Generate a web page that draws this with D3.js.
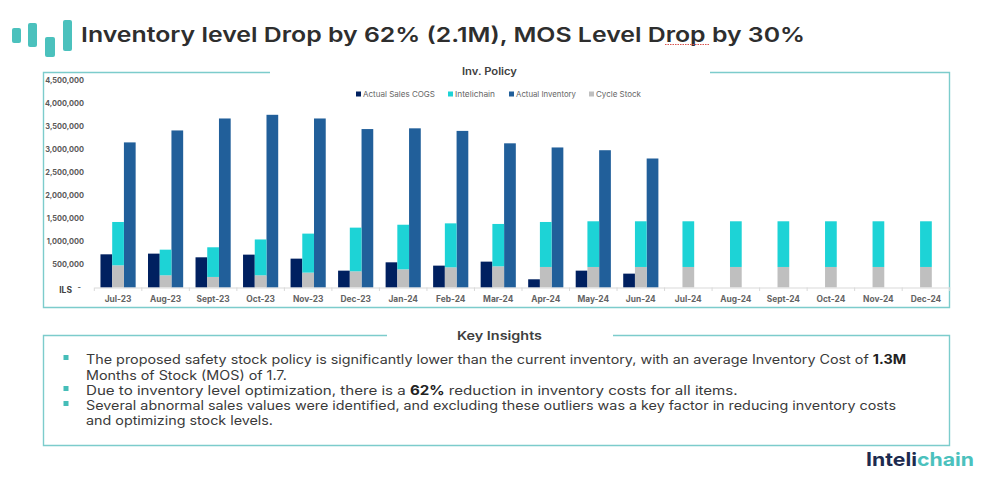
<!DOCTYPE html>
<html>
<head>
<meta charset="utf-8">
<script src="https://cdn.jsdelivr.net/npm/d3@7"></script>
<style>
  html, body { margin: 0; padding: 0; background: #fff; }
  svg { display: block; font-family: Inter, "Open Sans", sans-serif; }
</style>
</head>
<body>
<svg id="chart" width="993" height="477"></svg>
<script>
// values
var months = ["Jul-23", "Aug-23", "Sept-23", "Oct-23", "Nov-23", "Dec-23", "Jan-24", "Feb-24", "Mar-24", "Apr-24", "May-24", "Jun-24",
  "Jul-24", "Aug-24", "Sept-24", "Oct-24", "Nov-24", "Dec-24"];
var actualSales = [717000, 732000, 652000, 710000, 623000, 362000, 543000, 471000, 558000, 174000, 362000, 297000,
  null, null, null, null, null, null];
var actualInventory = [3150000, 3410000, 3670000, 3750000, 3670000, 3440000, 3456000, 3400000, 3130000, 3040000, 2980000, 2800000,
  null, null, null, null, null, null];
var cycleStock = [478000, 261000, 225000, 261000, 319000, 348000, 391000, 435000, 456000, 442000, 442000, 442000,
  442000, 442000, 442000, 442000, 442000, 442000];
// stacked above cycle stock
var intelichain = [942000, 557000, 645000, 779000, 848000, 949000, 969000, 955000, 921000, 978000, 993000, 993000,
  993000, 993000, 993000, 993000, 993000, 993000];
var yTicks = [0, 500000, 1000000, 1500000, 2000000, 2500000, 3000000, 3500000, 4000000, 4500000];
var legendLabels = ["Actual Sales COGS", "Intelichain", "Actual Inventory", "Cycle Stock"];

var colors = {sales: "#002060", intelichain: "#1dd3d6", inventory: "#215f9a", cycle: "#bfbfbf"};
var legendColors = [colors.sales, colors.intelichain, colors.inventory, colors.cycle];
var frameColor = "#7ccccc";
var inkColor = "#2e2e2e";

var svg = d3.select("#chart");

// header logo mark
var logoColor = "#4bc1bd";
[[12, 28, 9, 15], [28, 23, 9, 24], [45, 37, 10, 20], [63, 20, 9, 31]].forEach(function(b) {
  svg.append("rect").attr("x", b[0]).attr("y", b[1]).attr("width", b[2]).attr("height", b[3])
    .attr("rx", 2).attr("fill", logoColor);
});

svg.append("text")
  .attr("x", 81).attr("y", 42)
  .attr("font-size", 20.5).attr("font-weight", 600).attr("fill", inkColor)
  .attr("textLength", 724).attr("lengthAdjust", "spacingAndGlyphs")
  .text("Inventory level Drop by 62% (2.1M), MOS Level Drop by 30%");

// spell check squiggle under "rop"
svg.append("line")
  .attr("x1", 665).attr("x2", 709).attr("y1", 44.5).attr("y2", 44.5)
  .attr("stroke", "#d9534f").attr("stroke-width", 1).attr("stroke-dasharray", "1.5 1");

// panel with a gap in the top edge for its title
function panel(x0, x1, y0, y1, gap0, gap1) {
  svg.append("path")
    .attr("d", "M" + gap0 + "," + y0 + "H" + x0 + "V" + y1 + "H" + x1 + "V" + y0 + "H" + gap1)
    .attr("fill", "none")
    .attr("stroke", frameColor)
    .attr("stroke-width", 1.4);
}
panel(43.5, 949.5, 72.5, 307.5, 270, 710);
panel(43.5, 949.5, 335.5, 445.5, 387, 613);

svg.append("text")
  .attr("x", 462).attr("y", 75)
  .attr("font-size", 10).attr("font-weight", 600).attr("fill", "#404040")
  .attr("textLength", 55).attr("lengthAdjust", "spacingAndGlyphs")
  .text("Inv. Policy");

// scales
var x = d3.scaleBand().domain(months).range([94.3, 949.7]).paddingInner(0.26).paddingOuter(0.13);
var slot = d3.scaleBand().domain([0, 1, 2]).range([0, x.bandwidth()]);
var y = d3.scaleLinear().domain([0, 4500000]).range([287.3, 80.3]);

// axes
var yAxis = d3.axisLeft(y).tickValues(yTicks).tickSize(0).tickPadding(0)
  .tickFormat(function(d) { return d === 0 ? "-" : d3.format(",")(d); });
var yG = svg.append("g").attr("transform", "translate(84,0)").call(yAxis);
yG.select(".domain").remove();
yG.selectAll("text")
  .attr("font-size", 7.4).attr("font-weight", 700).attr("fill", "#595959")
  .attr("font-family", "Inter, sans-serif");
yG.selectAll(".tick").filter(function(d) { return d === 0; }).select("text").attr("x", -3);

svg.append("text")
  .attr("x", 72).attr("y", 293).attr("text-anchor", "end")
  .attr("font-size", 8.5).attr("font-weight", 700).attr("fill", "#404040")
  .text("ILS");

var xAxis = d3.axisBottom(x).tickSize(0).tickPadding(8.5);
var xG = svg.append("g").attr("transform", "translate(0,287.5)").call(xAxis);
xG.select(".domain").attr("stroke", "#d9d9d9");
xG.selectAll("text")
  .attr("font-size", 8.4).attr("font-weight", 700).attr("fill", "#636363")
  .attr("font-family", "Inter, sans-serif");

// category separators on the x axis
var step = x.step();
svg.append("g").selectAll("line")
  .data(months.concat(["end"]))
  .enter().append("line")
  .attr("x1", function(d, i) { return x.range()[0] + i * step; })
  .attr("x2", function(d, i) { return x.range()[0] + i * step; })
  .attr("y1", 287.5).attr("y2", 291)
  .attr("stroke", "#d9d9d9");

// bars
function drawBars(values, position, color) {
  svg.append("g").selectAll("rect")
    .data(values.map(function(v, i) { return {month: months[i], v: v}; }).filter(function(d) { return d.v !== null; }))
    .enter().append("rect")
    .attr("x", function(d) { return x(d.month) + slot(position); })
    .attr("y", function(d) { return y(d.v); })
    .attr("width", slot.bandwidth())
    .attr("height", function(d) { return y(0) - y(d.v); })
    .attr("fill", color);
}
drawBars(actualSales, 0, colors.sales);
drawBars(actualInventory, 2, colors.inventory);

var stackRows = months.map(function(m, i) { return {month: m, cycle: cycleStock[i], intelichain: intelichain[i]}; });
var layers = d3.stack().keys(["cycle", "intelichain"])(stackRows);
svg.append("g").selectAll("g")
  .data(layers)
  .enter().append("g")
  .attr("fill", function(d) { return colors[d.key]; })
  .selectAll("rect")
  .data(function(d) { return d; })
  .enter().append("rect")
  .attr("x", function(d) { return x(d.data.month) + slot(1); })
  .attr("y", function(d) { return y(d[1]); })
  .attr("width", slot.bandwidth())
  .attr("height", function(d) { return y(d[0]) - y(d[1]); });

// legend
var legendX = [356, 448, 509, 589];
var legendWidth = [72, 40, 60, 45];
var legend = svg.append("g").selectAll("g")
  .data(legendLabels)
  .enter().append("g")
  .attr("transform", function(d, i) { return "translate(" + legendX[i] + ",94)"; });
legend.append("rect")
  .attr("y", -2.5).attr("width", 5).attr("height", 5)
  .attr("fill", function(d, i) { return legendColors[i]; });
legend.append("text")
  .attr("x", 7).attr("y", 3)
  .attr("font-size", 7.8).attr("fill", "#666")
  .attr("textLength", function(d, i) { return legendWidth[i]; })
  .attr("lengthAdjust", "spacingAndGlyphs")
  .text(function(d) { return d; });

// key insights
svg.append("text")
  .attr("x", 457).attr("y", 340)
  .attr("font-size", 12).attr("font-weight", 600).attr("fill", "#404040")
  .attr("textLength", 85).attr("lengthAdjust", "spacingAndGlyphs")
  .text("Key Insights");

var insightLines = [
  {y: 364, bullet: true, length: 821, parts: [["The proposed safety stock policy is significantly lower than the current inventory, with an average Inventory Cost of ", 400], ["1.3M", 700]]},
  {y: 380, bullet: false, length: 201, parts: [["Months of Stock (MOS) of 1.7.", 400]]},
  {y: 395, bullet: true, length: 652, parts: [["Due to inventory level optimization, there is a ", 400], ["62%", 700], [" reduction in inventory costs for all items.", 400]]},
  {y: 410, bullet: true, length: 811, parts: [["Several abnormal sales values were identified, and excluding these outliers was a key factor in reducing inventory costs", 400]]},
  {y: 425, bullet: false, length: 187, parts: [["and optimizing stock levels.", 400]]}
];
insightLines.forEach(function(line) {
  if (line.bullet) {
    svg.append("rect").attr("x", 63.5).attr("y", line.y - 9).attr("width", 5).attr("height", 5).attr("fill", "#45bdb8");
  }
  var t = svg.append("text")
    .attr("font-size", 12.8).attr("fill", "#3a3a3a");
  line.parts.forEach(function(p) {
    t.append("tspan").attr("font-weight", p[1]).attr("fill", p[1] === 700 ? "#222" : null).text(p[0]);
  });
  // stretch the line to the width measured on the reference
  var k = line.length / t.node().getComputedTextLength();
  t.attr("transform", "translate(86," + line.y + ") scale(" + k + ",1)");
});

// footer logo
var brand = svg.append("text")
  .attr("x", 866).attr("y", 466)
  .attr("font-size", 18.5).attr("font-weight", 700)
  .attr("textLength", 108).attr("lengthAdjust", "spacingAndGlyphs");
brand.append("tspan").attr("fill", "#1d2b4f").text("Inteli");
brand.append("tspan").attr("fill", "#4bc1bd").text("chain");
</script>
</body>
</html>
